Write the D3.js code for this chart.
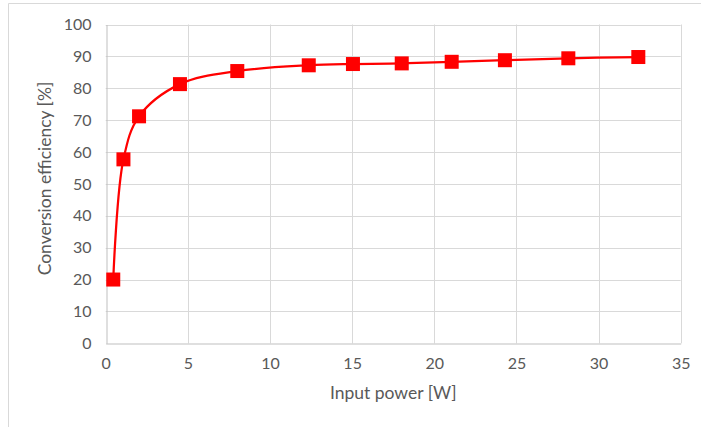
<!DOCTYPE html>
<html>
<head>
<meta charset="utf-8">
<script src="https://cdn.jsdelivr.net/npm/d3@7"></script>
<style>
  html, body { margin: 0; padding: 0; background: #fff; }
  svg { display: block; }
  text { font-family: Lato, "Open Sans", sans-serif; fill: #595959; }
</style>
</head>
<body>
<svg id="chart" width="701" height="427"></svg>
<script>
// Measured input power [W] and the converter efficiency [%] at each point
const inputPower = [0.46, 1.08, 2.03, 4.52, 8.01, 12.36, 15.05, 18.02, 21.06, 24.3, 28.16, 32.42];
const efficiency = [20.0, 57.7, 71.2, 81.3, 85.4, 87.2, 87.6, 87.8, 88.3, 88.8, 89.4, 89.8];
const xTicks = [0, 5, 10, 15, 20, 25, 30, 35];
const yTicks = [0, 10, 20, 30, 40, 50, 60, 70, 80, 90, 100];

const svg = d3.select("#chart");
const plot = { left: 105.7, right: 680.7, top: 24.5, bottom: 343.3 };

// chart frame
svg.append("path")
  .attr("d", "M8.5,427 V3.5 H701")
  .attr("fill", "none")
  .attr("stroke", "#d9d9d9")
  .attr("stroke-width", 1);

const x = d3.scaleLinear().domain([0, 35]).range([plot.left, plot.right]);
const y = d3.scaleLinear().domain([0, 100]).range([plot.bottom, plot.top]);

// gridlines
svg.append("g")
  .selectAll("line.h")
  .data(yTicks.filter(d => d > 0))
  .join("line")
  .attr("x1", plot.left).attr("x2", plot.right)
  .attr("y1", d => Math.round(y(d)) + 0.5).attr("y2", d => Math.round(y(d)) + 0.5)
  .attr("stroke", "#d9d9d9");
svg.append("g")
  .selectAll("line.v")
  .data(xTicks.filter(d => d > 0))
  .join("line")
  .attr("y1", plot.top).attr("y2", plot.bottom)
  .attr("x1", d => Math.round(x(d)) + 0.5).attr("x2", d => Math.round(x(d)) + 0.5)
  .attr("stroke", "#d9d9d9");

// axes
const xAxis = svg.append("g")
  .attr("transform", `translate(0,${Math.round(plot.bottom) + 0.5})`)
  .call(d3.axisBottom(x).tickValues(xTicks).tickSize(0).tickPadding(14));
const yAxis = svg.append("g")
  .attr("transform", `translate(${Math.round(plot.left) + 0.5},0)`)
  .call(d3.axisLeft(y).tickValues(yTicks).tickSize(0).tickPadding(15));
[xAxis, yAxis].forEach(g => {
  g.select(".domain").attr("stroke", "#bfbfbf");
  g.selectAll("text").attr("font-size", 16).attr("fill", "#595959")
    .attr("font-family", "Lato, 'Open Sans', sans-serif");
});

// axis titles
svg.append("text")
  .attr("x", (plot.left + plot.right) / 2)
  .attr("y", 399)
  .attr("text-anchor", "middle")
  .attr("font-size", 17.5)
  .text("Input power [W]");
svg.append("text")
  .attr("transform", `translate(51,${(75 + 282) / 2}) rotate(-90)`)
  .attr("text-anchor", "middle")
  .attr("font-size", 17.5)
  .text("Conversion efficiency [%]");

// smoothed efficiency curve
const pts = inputPower.map((p, i) => [p, efficiency[i]]);
svg.append("path")
  .datum(pts)
  .attr("fill", "none")
  .attr("stroke", "#ff0000")
  .attr("stroke-width", 2.25)
  .attr("d", d3.line().x(d => x(d[0])).y(d => y(d[1])).curve(d3.curveCatmullRom.alpha(0.5)));

// square markers
const m = 14;
svg.append("g")
  .selectAll("rect")
  .data(pts)
  .join("rect")
  .attr("x", d => x(d[0]) - m / 2)
  .attr("y", d => y(d[1]) - m / 2)
  .attr("width", m).attr("height", m)
  .attr("fill", "#ff0000");
</script>
</body>
</html>
